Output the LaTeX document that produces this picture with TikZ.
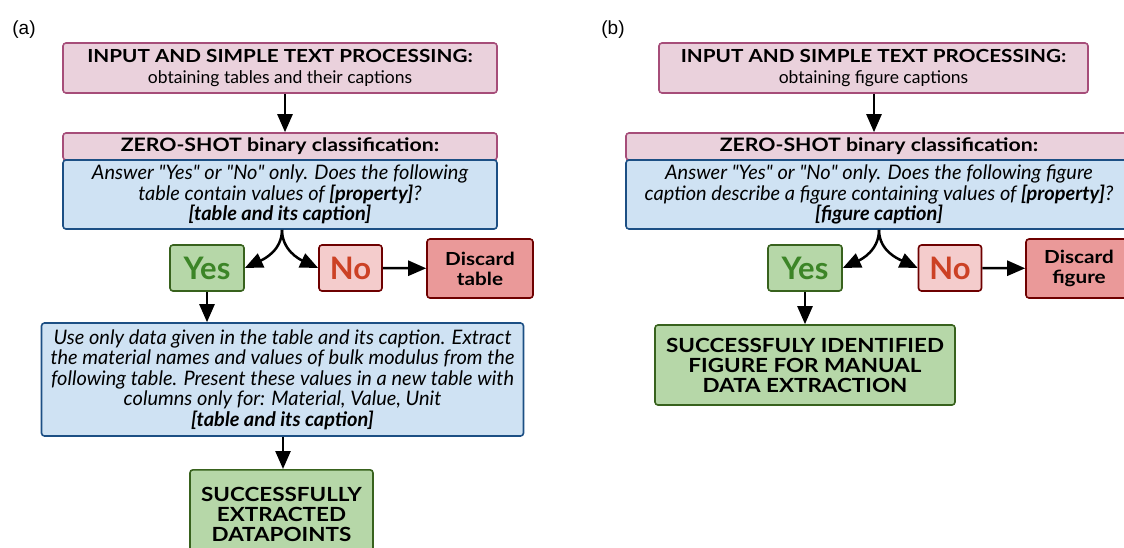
\documentclass[tikz,border=0pt]{standalone}
\usepackage{fontspec}
\setmainfont{Lato}
\newfontfamily\widefont{Lato}[FakeStretch=1.15]
\newfontfamily\panelfont{Liberation Sans}
\usepackage{xcolor}
\usetikzlibrary{arrows.meta, positioning, calc}

\definecolor{pinkfill}{HTML}{EAD1DC}
\definecolor{pinkline}{HTML}{A64D79}
\definecolor{bluefill}{HTML}{CFE2F3}
\definecolor{blueline}{HTML}{1C4F84}
\definecolor{greenfill}{HTML}{B6D7A8}
\definecolor{greenline}{HTML}{38621D}
\definecolor{yestext}{HTML}{3C8527}
\definecolor{nofill}{HTML}{F4CCCC}
\definecolor{noline}{HTML}{6E0000}
\definecolor{notext}{HTML}{CC4125}
\definecolor{discardfill}{HTML}{EA9999}

\newcommand{\qt}[1]{\textquotedbl#1\textquotedbl}

\begin{document}
\begin{tikzpicture}[
    x=1pt, y=-1pt,
    box/.style={rectangle, rounded corners=3pt, line width=1.6pt, align=center, inner sep=2pt},
    inputbox/.style={box, draw=pinkline, fill=pinkfill, font=\fontsize{17.5}{21}\selectfont},
    headbox/.style={box, draw=pinkline, fill=pinkfill, font=\widefont\bfseries\fontsize{18.5}{20}\selectfont},
    promptbox/.style={box, draw=blueline, fill=bluefill, font=\itshape\fontsize{20}{20.5}\selectfont},
    yesbox/.style={box, draw=greenline, fill=greenfill, text=yestext, minimum width=74pt, minimum height=46pt, font=\bfseries\fontsize{31}{32}\selectfont},
    nobox/.style={box, draw=noline, fill=nofill, text=notext, minimum width=63pt, minimum height=46pt, font=\bfseries\fontsize{31}{32}\selectfont},
    discardbox/.style={box, draw=noline, fill=discardfill, minimum width=106pt, minimum height=59pt, font=\widefont\bfseries\fontsize{18}{20}\selectfont},
    donebox/.style={box, draw=greenline, fill=greenfill, font=\widefont\bfseries\fontsize{19.5}{20}\selectfont},
    arrow/.style={-{Triangle[length=18pt,width=15pt]}, line width=2.5pt}
]
\clip (0,0) rectangle (1124,547);

% panel (a)
\node[font=\panelfont\fontsize{19}{22}\selectfont] (lbla) at (24,30) {(a)};
\node[inputbox, minimum width=434pt, minimum height=50pt] (ina) at (280,68)
    {{\widefont\bfseries\fontsize{18}{21}\selectfont INPUT AND SIMPLE TEXT PROCESSING:}\\obtaining tables and their captions};
\node[headbox, minimum width=434pt, minimum height=27pt] (zsa) at (280,146.5) {ZERO-SHOT binary classification:};
\node[promptbox, minimum width=434pt, minimum height=69pt] (qa) at (280,194.5)
    {Answer \qt{Yes} or \qt{No} only. Does the following\\table contain values of \textbf{[property]}?\\\textbf{[table and its caption]}};
\node[yesbox] (yesa) at (207,268) {Yes};
\node[nobox] (noa) at (350.5,268) {No};
\node[discardbox] (disa) at (480,268.5) {Discard\\table};
\node[promptbox, minimum width=482pt, minimum height=113pt] (exa) at (282.5,379.5)
    {Use only data given in the table and its caption. Extract\\the material names and values of bulk modulus from the\\following table. Present these values in a new table with\\columns only for: Material, Value, Unit\\\textbf{[table and its caption]}};
\node[donebox, minimum width=183pt, minimum height=90pt, anchor=north] (outa) at (281.5,469)
    {SUCCESSFULLY\\EXTRACTED\\DATAPOINTS};

\draw[arrow] (ina.south -| 285,0) -- (zsa.north -| 285,0);
\draw[arrow] (qa.south -| 282,0) to[out=-90, in=25] (yesa.east);
\draw[arrow] (qa.south -| 282,0) to[out=-90, in=155] (noa.west);
\draw[arrow] (noa) -- (disa);
\draw[arrow] (yesa.south) -- (exa.north -| yesa.south);
\draw[arrow] (exa.south -| 283,0) -- (outa.north -| 283,0);

% panel (b)
\node[font=\panelfont\fontsize{19}{22}\selectfont] (lblb) at (613,30) {(b)};
\node[inputbox, minimum width=429pt, minimum height=50pt] (inb) at (873.5,68)
    {{\widefont\bfseries\fontsize{18}{21}\selectfont INPUT AND SIMPLE TEXT PROCESSING:}\\obtaining figure captions};
\node[headbox, minimum width=506pt, minimum height=27pt] (zsb) at (879,146.5) {ZERO-SHOT binary classification:};
\node[promptbox, minimum width=506pt, minimum height=69pt] (qb) at (879,194.5)
    {Answer \qt{Yes} or \qt{No} only. Does the following figure\\caption describe a figure containing values of \textbf{[property]}?\\\textbf{[figure caption]}};
\node[yesbox] (yesb) at (805,268) {Yes};
\node[nobox] (nob) at (950,268) {No};
\node[discardbox] (disb) at (1079,268.5) {Discard\\figure};
\node[donebox, minimum width=300pt, minimum height=80pt] (outb) at (805,365)
    {SUCCESSFULY IDENTIFIED\\FIGURE FOR MANUAL\\DATA EXTRACTION};

\draw[arrow] (inb.south -| 874,0) -- (zsb.north -| 874,0);
\draw[arrow] (qb.south -| 879,0) to[out=-90, in=25] (yesb.east);
\draw[arrow] (qb.south -| 879,0) to[out=-90, in=155] (nob.west);
\draw[arrow] (nob) -- (disb);
\draw[arrow] (yesb.south) -- (outb.north);

\end{tikzpicture}
\end{document}
